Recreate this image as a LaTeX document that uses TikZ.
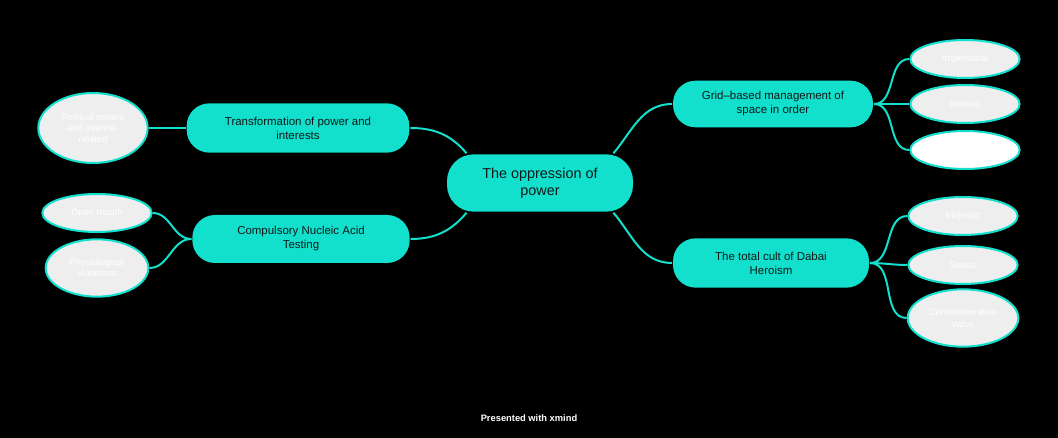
\documentclass[tikz,border=0pt]{standalone}
\usepackage{fontspec}
\setmainfont{Liberation Sans}
\usetikzlibrary{shapes.geometric}
\definecolor{xteal}{RGB}{18,224,204}
\definecolor{leafgray}{RGB}{238,238,238}
\definecolor{inkdark}{RGB}{15,25,25}

\begin{document}
\begin{tikzpicture}[x=0.75pt,y=-0.75pt,line width=1.5pt,
   topic/.style={fill=xteal,text=inkdark,rounded corners=17pt,align=center,font=\fontsize{8.6}{10.5}\selectfont,minimum height=36pt,inner sep=2pt},
   leaf/.style={ellipse,draw=xteal,fill=leafgray,text=white,align=center,font=\fontsize{7}{8.5}\selectfont,inner sep=0pt,minimum width=82pt,minimum height=28.5pt},
   link/.style={draw=xteal,line width=1.5pt}]
  \fill[black] (0,0) rectangle (1058,438);
  \useasboundingbox (0,0) rectangle (1058,438);
  \node[topic,minimum width=139.5pt,minimum height=43pt,rounded corners=20pt,font=\fontsize{10.8}{12.75}\selectfont] (ctr) at (540,183) {The oppression of\\power};
  \node[topic,minimum width=167pt,minimum height=37pt] (trans) at (298,128) {Transformation of power and\\interests};
  \node[topic,minimum width=163pt] (test) at (301,239) {Compulsory Nucleic Acid\\Testing};
  \node[topic,minimum width=150pt,minimum height=35pt] (grid) at (773,104) {Grid--based management of\\space in order};
  \node[topic,minimum width=147pt,minimum height=37pt] (cult) at (771,263) {The total cult of Dabai\\Heroism};
  \node[leaf,minimum height=52.5pt] (polit) at (93,128) {Political means\\and interest-\\related};
  \node[leaf] (mouth) at (97,213) {Open mouth};
  \node[leaf,minimum width=77pt,minimum height=43pt] (phys) at (97,268) {Physiological\\violations};
  \node[leaf] (imp) at (965,59) {Impersonal};
  \node[leaf] (intense) at (965,104) {Intense};
  \node[leaf,fill=white] (blank) at (965,150) {};
  \node[leaf] (majes) at (963,216) {Majestic};
  \node[leaf] (status) at (963,265) {Status};
  \node[leaf,minimum width=83pt,minimum height=43pt] (memo) at (963,318) {Commemorative\\value};
  \draw[link] (trans.east) to[out=0,in=130] (ctr.158);
  \draw[link] (test.east) to[out=0,in=230] (ctr.202);
  \draw[link] (grid.west) to[out=180,in=50] (ctr.22);
  \draw[link] (cult.west) to[out=180,in=-50] (ctr.-22);
  \draw[link] (trans.west) -- (polit.east);
  \draw[link] (test.west) to[out=180,in=0] (mouth.east);
  \draw[link] (test.west) to[out=180,in=0] (phys.east);
  \draw[link] (grid.east) to[out=0,in=180] (imp.west);
  \draw[link] (grid.east) to[out=0,in=180] (intense.west);
  \draw[link] (grid.east) to[out=0,in=180] (blank.west);
  \draw[link] (cult.east) to[out=0,in=180] (majes.west);
  \draw[link] (cult.east) to[out=0,in=180] (status.west);
  \draw[link] (cult.east) to[out=0,in=180] (memo.west);
  \node[text=white,font=\fontsize{7}{8}\selectfont\bfseries] (credit) at (529,418) {Presented with xmind};
\end{tikzpicture}
\end{document}
